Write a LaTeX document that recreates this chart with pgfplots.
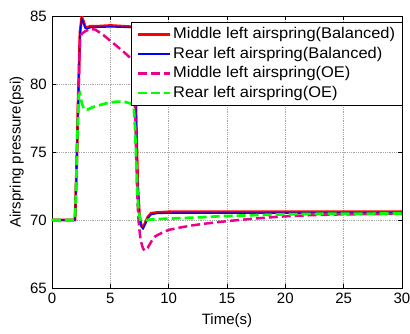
\documentclass[border=0pt]{standalone}
\usepackage{fontspec}
\setmainfont{Liberation Sans}
\newfontfamily\legfont[FakeStretch=1.06]{Liberation Sans}
\usepackage{pgfplots}
\pgfplotsset{compat=1.18}
\begin{document}
\fontsize{15}{18}\selectfont
\begin{tikzpicture}
\useasboundingbox (-52pt,-45pt) rectangle (358pt,288pt);
\begin{axis}[
  at={(0pt,0pt)}, anchor=south west,
  scale only axis, width=350pt, height=272pt,
  xmin=0, xmax=30, ymin=65, ymax=85,
  xtick={0,5,...,30}, ytick={65,70,...,85},
  grid=major,
  grid style={gray!70, line width=0.4pt, dash pattern=on 1pt off 0.8pt},
  tick align=inside, major tick length=4pt,
  tick style={black, line width=0.6pt},
  axis line style={black, line width=0.8pt},
  ticklabel style={font=\fontsize{15}{18}\selectfont},
  /pgf/number format/assume math mode=true,
  xlabel={Time(s)}, ylabel={Airspring pressure(psi)},
  label style={font=\fontsize{15}{18}\selectfont},
  xlabel style={at={(axis description cs:0.5,0)}, anchor=north, yshift=-25.5pt, inner sep=0pt},
  ylabel style={at={(axis description cs:-0.08,0.5)}, anchor=south, inner sep=0pt},
  legend style={at={(rel axis cs:1.003,0.978)}, anchor=north east,
    draw=black, line width=0.8pt, fill=white,
    font=\legfont\fontsize{15.5}{18}\selectfont,
    inner xsep=5.5pt, inner ysep=3.3pt, row sep=2pt,
    nodes={inner sep=2pt}, cells={anchor=west}},
  legend image code/.code={\draw[#1] (0pt,0pt) -- (32pt,0pt);},
]
% balanced, middle left
\addplot[red, line width=2.8pt] coordinates {
(0,70) (1.97,70) (2.1,73.5) (2.25,79) (2.4,83.8) (2.55,84.9) (2.7,84.6)
(2.85,84.2) (3.0,84.15) (3.3,84.25) (4,84.25) (5,84.3) (6,84.25) (6.95,84.2)
(7.05,83.6) (7.15,80) (7.25,76) (7.35,72.5) (7.5,70.3) (7.65,69.6) (7.8,69.45)
(7.95,69.7) (8.2,70.2) (8.5,70.5) (9,70.55) (10,70.6) (30,70.6)};
% balanced, rear left
\addplot[blue, line width=1.4pt] coordinates {
(0,70) (1.97,70) (2.1,73.5) (2.25,79) (2.4,83.7) (2.55,84.8) (2.7,84.5)
(2.85,84.1) (3.0,84.05) (3.3,84.15) (5,84.2) (6.95,84.15) (7.05,83.5)
(7.15,80) (7.25,76) (7.35,72.5) (7.5,70.2) (7.65,69.5) (7.8,69.35) (7.95,69.6)
(8.2,70.1) (8.5,70.4) (9,70.48) (10,70.5) (30,70.52)};
% OE, middle left
\addplot[magenta, line width=2.5pt, dash pattern=on 9pt off 4pt] coordinates {
(0,70) (1.97,70) (2.1,73.5) (2.25,79) (2.4,83.2) (2.55,83.7) (2.8,83.85)
(3.25,84.05) (3.7,84.0) (4.4,83.6) (5.25,83.0) (6.1,82.4) (6.8,81.85)
(6.98,81.5) (7.05,80.5) (7.15,77) (7.25,73.5) (7.35,71) (7.45,69.6) (7.6,68.5)
(7.8,67.9) (7.95,67.75) (8.2,67.95) (8.5,68.4) (8.85,68.8) (9.4,69.05)
(10,69.27) (11,69.45) (12,69.6) (13,69.72) (14.5,69.87) (16,70.0) (18,70.15)
(20,70.27) (22,70.35) (24,70.4) (27,70.43) (30,70.45)};
% OE, rear left
\addplot[green, line width=2.7pt, dash pattern=on 9pt off 4pt] coordinates {
(0,70) (1.97,70) (2.1,73.5) (2.2,77) (2.3,79.2) (2.4,79.3) (2.55,78.6)
(2.75,78.15) (3.0,78.1) (3.5,78.3) (4.5,78.55) (5.5,78.7) (6.2,78.7)
(6.8,78.55) (7.0,78.4) (7.1,77) (7.2,75) (7.3,72.5) (7.4,70.8) (7.55,70.05)
(7.8,69.95) (8.3,70.02) (9.1,70.07) (10.5,70.12) (12,70.17) (14.5,70.28)
(17,70.35) (20,70.42) (22,70.45) (30,70.48)};
\legend{Middle left airspring(Balanced), Rear left airspring(Balanced),
        Middle left airspring(OE), Rear left airspring(OE)}
\end{axis}
\end{tikzpicture}
\end{document}
